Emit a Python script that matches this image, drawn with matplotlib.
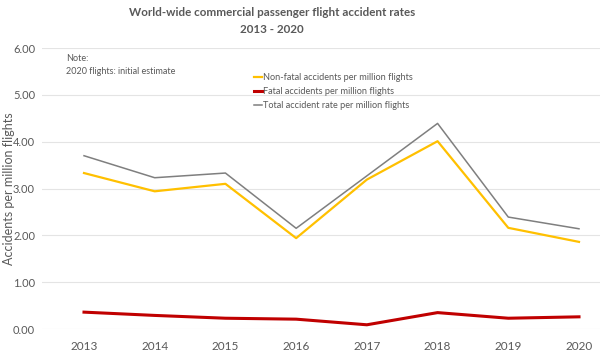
import matplotlib.pyplot as plt

plt.rcParams['font.family'] = ['Lato', 'DejaVu Sans']

years = ['2013', '2014', '2015', '2016', '2017', '2018', '2019', '2020']
non_fatal = [3.33, 2.94, 3.10, 1.94, 3.19, 4.01, 2.16, 1.86]
fatal = [0.36, 0.29, 0.23, 0.21, 0.09, 0.35, 0.23, 0.26]
total = [3.70, 3.23, 3.33, 2.15, 3.27, 4.39, 2.39, 2.14]

TXT = '#595959'


def main():
    fig = plt.figure(figsize=(6, 3.59), dpi=100)
    ax = fig.add_axes([42 / 600, 30 / 359, 558 / 600, 281 / 359])

    x = range(len(years))
    ax.plot(x, non_fatal, color='#FFC000', lw=1.6, label='Non-fatal accidents per million flights')
    ax.plot(x, fatal, color='#C00000', lw=2.2, label='Fatal accidents per million flights')
    ax.plot(x, total, color='#7F7F7F', lw=1.1, label='Total accident rate per million flights')

    ax.set_xlim(-0.594, 7.297)
    ax.set_ylim(0, 6)
    ax.set_xticks(list(x))
    ax.set_xticklabels(years)
    ax.set_yticks([0, 1, 2, 3, 4, 5, 6])
    ax.set_yticklabels([f'{v:.2f}' for v in range(7)])
    ax.tick_params(length=0, colors=TXT, labelsize=8)
    ax.tick_params(axis='x', pad=9, labelsize=8.5)
    ax.tick_params(axis='y', pad=5)
    for s in ax.spines.values():
        s.set_visible(False)
    ax.grid(axis='y', color='#E4E4E4', lw=0.8)
    ax.set_axisbelow(True)

    # y label placed by hand, the default spot falls off the left edge
    fig.text(9 / 600, 1 - 189 / 359, 'Accidents per million flights', rotation=90,
             ha='center', va='center', fontsize=9, color=TXT)

    fig.text(272 / 600, 1 - 21 / 359, 'World-wide commercial passenger flight accident rates\n2013 - 2020',
             ha='center', va='center', fontsize=8.4, fontweight='bold', color=TXT, linespacing=1.75)
    fig.text(66 / 600, 1 - 65 / 359, 'Note:\n2020 flights: initial estimate',
             ha='left', va='center', fontsize=6.5, color=TXT, linespacing=1.5)

    ax.legend(loc='upper left', bbox_to_anchor=(254 / 600, 1 - 73 / 359), bbox_transform=fig.transFigure,
              frameon=False, fontsize=6.6, labelcolor=TXT, handlelength=0.85, handletextpad=0.15,
              labelspacing=0.55, borderaxespad=0, borderpad=0)

    fig.savefig('out.png', dpi=100)
    plt.close(fig)


if __name__ == '__main__':
    main()
